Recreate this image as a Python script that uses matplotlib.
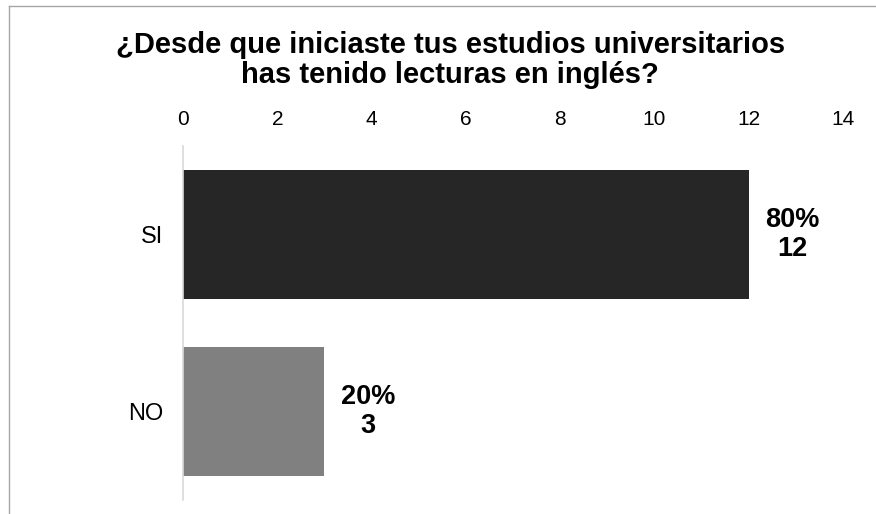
import matplotlib.pyplot as plt
from matplotlib.lines import Line2D

plt.rcParams["font.family"] = ["Liberation Sans", "DejaVu Sans"]

categories = ["SI", "NO"]
counts = [12, 3]
percents = ["80%", "20%"]
bar_colors = ["#262626", "#808080"]
x_ticks = [0, 2, 4, 6, 8, 10, 12, 14]
title = "¿Desde que iniciaste tus estudios universitarios\nhas tenido lecturas en inglés?"

fig = plt.figure(figsize=(8.76, 5.14), dpi=100)
ax = fig.add_axes([183 / 876, 1 - 500 / 514, (843 - 183) / 876, (500 - 146) / 514])

positions = list(range(len(categories)))
ax.barh(positions, counts, height=0.73, color=bar_colors)
for pos, cnt, pct in zip(positions, counts, percents):
    ax.text(cnt + 0.92, pos, f"{pct}\n{cnt}", ha="center", va="center",
            fontsize=19.5, fontweight="bold", linespacing=1.15)

ax.set_xlim(0, 14)
ax.set_ylim(1.5, -0.5)
ax.set_xticks(x_ticks)
ax.set_yticks(positions)
ax.set_yticklabels(categories)
ax.xaxis.tick_top()
ax.tick_params(axis="x", length=0, labelsize=15, pad=12)
ax.tick_params(axis="y", length=0, labelsize=17, pad=14)
for side in ["top", "right", "bottom"]:
    ax.spines[side].set_visible(False)
ax.spines["left"].set_color("#d9d9d9")
ax.spines["left"].set_linewidth(1.2)

fig.text(0.514, 1 - 60 / 514, title, ha="center", va="center",
         fontsize=21, fontweight="bold", linespacing=1.1)

# chart frame
border = "#a6a6a6"
fig.add_artist(Line2D([9 / 876, 9 / 876], [0, 1 - 6 / 514], color=border, lw=1))
fig.add_artist(Line2D([9 / 876, 1], [1 - 6 / 514, 1 - 6 / 514], color=border, lw=1))

fig.savefig("out.png", dpi=100)
